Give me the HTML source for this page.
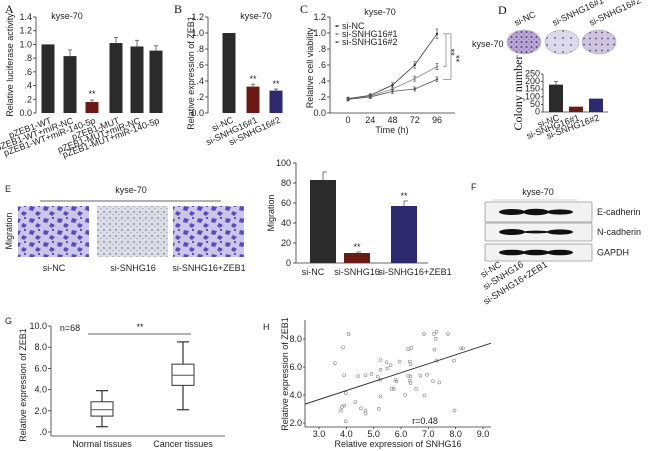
<!DOCTYPE html>
<html><head><meta charset="utf-8"><style>
html,body{margin:0;padding:0;background:#fff}
svg{display:block;font-family:"Liberation Sans",sans-serif}
.t{font-size:9px;fill:#222}
.L{font-family:"Liberation Serif",serif;font-size:12px;fill:#111}
</style></head><body>
<svg id="fig" width="650" height="451" viewBox="0 0 650 451" xmlns="http://www.w3.org/2000/svg">
<defs>
<pattern id="heavy" width="14" height="12" patternUnits="userSpaceOnUse">
<rect width="14" height="12" fill="#c9c6ea"/>
<path d="M2 2l5 1-2 4-4-1z M9 7l4 2-3 3-3-2z" fill="#5a4bb8"/><circle cx="11" cy="2" r="1" fill="#3a2d8a"/>
</pattern>
<pattern id="light" width="6" height="6" patternUnits="userSpaceOnUse">
<rect width="6" height="6" fill="#dcdbe8"/><circle cx="2" cy="2" r="0.7" fill="#555"/><circle cx="5" cy="4.5" r="0.5" fill="#777"/>
</pattern>
<pattern id="dish" width="5" height="5" patternUnits="userSpaceOnUse">
<rect width="5" height="5" fill="#b9a9d2"/><circle cx="1.5" cy="2" r="1" fill="#5b3f93"/><circle cx="4" cy="4.2" r="0.6" fill="#7c5fb0"/>
</pattern>
<pattern id="dish2" width="8" height="7" patternUnits="userSpaceOnUse">
<rect width="8" height="7" fill="#dcdaea"/><circle cx="3" cy="3" r="0.9" fill="#5b3f93"/>
</pattern>
<pattern id="dish3" width="6" height="6" patternUnits="userSpaceOnUse">
<rect width="6" height="6" fill="#cfc5de"/><circle cx="2" cy="2.5" r="0.9" fill="#5b3f93"/>
</pattern>
</defs>
<g id="root"></g>
</svg>
<script>
// ---------- data ----------
const aCats=["pZEB1-WT","pZEB1-WT+miR-NC","pZEB1-WT+miR-140-5p","pZEB1-MUT","pZEB1-MUT+miR-NC","pZEB1-MUT+miR-140-5p"];
const aVals=[1.0,0.83,0.16,1.02,0.97,0.91];
const aErr=[0,0.09,0.03,0.08,0.09,0.07];
const aTicks=["0.0",".2",".4",".6",".8","1.0","1.2","1.4"];
const bCats=["si-NC","si-SNHG16#1","si-SNHG16#2"];
const bVals=[1.0,0.33,0.28];
const bErr=[0,0.03,0.02];
const bTicks=["0.0",".2",".4",".6",".8","1.0","1.2"];
const cTimes=[0,24,48,72,96];
const cNC=[0.18,0.22,0.35,0.60,0.99];
const cS1=[0.17,0.21,0.30,0.43,0.58];
const cS2=[0.17,0.20,0.27,0.30,0.42];
const dCats=["si-NC","si-SNHG16#1","si-SNHG16#2"];
const dVals=[180,35,88];
const dTicks=[0,50,100,150,200,250];
const eCats=["si-NC","si-SNHG16","si-SNHG16+ZEB1"];
const eVals=[83,10,57];
const eErr=[8,1,5];
const eTicks=[0,20,40,60,80,100];
const gTicks=[".0","2.0","4.0","6.0","8.0","10.0"];
const gNormal=[0.5,1.5,2.1,2.85,3.9];
const gCancer=[2.1,4.4,5.35,6.4,8.5];
const hX=[3.58,3.88,3.92,3.84,3.8,3.92,3.98,3.98,4.08,4.33,4.43,4.53,4.7,4.7,4.71,4.92,5.15,5.19,5.24,5.25,5.25,5.25,5.47,5.5,5.62,5.67,5.74,5.8,5.84,5.95,6.15,6.26,6.38,6.32,6.35,6.27,6.32,6.35,6.35,6.55,6.71,6.84,6.86,6.95,7.17,7.21,7.22,7.27,7.3,7.3,7.4,7.72,7.94,7.96,8.2,8.27];
const hY=[6.27,7.41,5.42,3.14,2.88,3.24,4.14,2.12,8.36,3.5,5.35,3.05,5.42,2.9,2.67,5.51,5.32,3.02,5.09,6.5,5.8,3.9,6.34,5.9,6.13,4.44,4.44,5.09,4.97,6.39,4.0,7.27,7.36,6.39,6.2,5.37,5.02,5.32,4.85,4.44,5.39,8.36,3.97,5.44,4.99,8.36,7.24,8.02,8.52,6.46,4.9,8.36,6.46,2.9,7.34,7.34];
const hFit=[3.35,7.7];
const hXTicks=["3.0","4.0","5.0","6.0","7.0","8.0","9.0"];
const hYTicks=["2.0","4.0","6.0","8.0"];

const NS="http://www.w3.org/2000/svg";
const root=document.getElementById('root');
function mk(tag,attrs,parent,text){const e=document.createElementNS(NS,tag);for(const k in attrs)e.setAttribute(k,attrs[k]);if(text!==undefined)e.textContent=text;(parent||root).appendChild(e);return e;}
function grp(name){const g=mk('g',{});return g;}
function txt(g,x,y,s,opt){opt=opt||{};const t=mk('text',{x:x,y:y,class:opt.cls||'t','text-anchor':opt.a||'middle'},g,s);if(opt.rot!==undefined)t.setAttribute('transform',`rotate(${opt.rot} ${x} ${y})`);if(opt.size)t.setAttribute('font-size',opt.size);return t;}
function line(g,x1,y1,x2,y2,c,w){return mk('line',{x1,y1,x2,y2,stroke:c||'#333','stroke-width':w||0.8},g);}
const colDark='#2b2b2b',colRed='#6b1a14',colBlue='#2e2a6e';

// ---------- Panel A ----------
(function(){
const g=grp('panel-a');
txt(g,5,13,'A',{cls:'L',a:'start',name:'panel-letter-a'});
const x0=36,y0=113,ppu=96/1.4;
const ys=v=>y0-v*ppu;
line(g,x0,ys(1.4),x0,y0);
aTicks.forEach((s,i)=>{const y=ys(i*0.2);line(g,x0-3,y,x0,y);txt(g,x0-4,y+3,s,{a:'end',name:'y-tick-label'});});
const centers=[48,70,92,116,137,156];
aVals.forEach((v,i)=>{const c=centers[i];const r=mk('rect',{x:c-6.5,y:ys(v),width:13,height:y0-ys(v),fill:i===2?colRed:colDark},g);

if(aErr[i]){line(g,c,ys(v),c,ys(v+aErr[i]),'#555');line(g,c-2,ys(v+aErr[i]),c+2,ys(v+aErr[i]),'#555');}
txt(g,c+4,y0+10,aCats[i],{a:'end',rot:-20,size:9.5,name:'x-tick-label'});});
txt(g,92,ys(0.16+0.03)-3,'**',{size:7,name:'significance'});
txt(g,67,19,'kyse-70',{size:9.5,name:'title'});
txt(g,13,65,'Relative luciferase activity',{rot:-90,size:9.5,name:'y-axis-title'});
})();

// ---------- Panel B ----------
(function(){
const g=grp('panel-b');
txt(g,174,13,'B',{cls:'L',a:'start',name:'panel-letter-b'});
const x0=208,y0=113,ppu=96/1.2;const ys=v=>y0-v*ppu;
line(g,x0,ys(1.2),x0,y0);
bTicks.forEach((s,i)=>{const y=ys(i*0.2);line(g,x0-3,y,x0,y);txt(g,x0-4,y+3,s,{a:'end',name:'y-tick-label'});});
const centers=[229,253,276],cols=[colDark,colRed,colBlue];
bVals.forEach((v,i)=>{const c=centers[i];const r=mk('rect',{x:c-6.5,y:ys(v),width:13,height:y0-ys(v),fill:cols[i]},g);

if(bErr[i]){line(g,c,ys(v),c,ys(v+bErr[i]),'#555');line(g,c-2,ys(v+bErr[i]),c+2,ys(v+bErr[i]),'#555');txt(g,c,ys(v+bErr[i])-2,'**',{size:6,name:'significance'});}
txt(g,c+5,y0+9,bCats[i],{a:'end',rot:-25,size:9.5,name:'x-tick-label'});});
txt(g,256,19,'kyse-70',{size:9.5,name:'title'});
txt(g,194,73,'Relative expression of ZEB1',{rot:-90,size:9.5,name:'y-axis-title'});
})();

// ---------- Panel C ----------
(function(){
const g=grp('panel-c');
txt(g,300,13,'C',{cls:'L',a:'start',name:'panel-letter-c'});
const x0=330,y0=113,ppu=96/1.2;const ys=v=>y0-v*ppu;
const xs=t=>348+t*(437-348)/96;
line(g,x0,ys(1.2),x0,y0);line(g,x0,y0,455,y0);
bTicks.forEach((s,i)=>{const y=ys(i*0.2);line(g,x0-3,y,x0,y);txt(g,x0-4,y+3,s,{a:'end',name:'y-tick-label'});});
cTimes.forEach(t=>{txt(g,xs(t),123,String(t),{size:7.5,name:'x-tick-label'});});
txt(g,392,133,'Time (h)',{size:9.5,name:'x-axis-title'});
txt(g,313,68,'Relative cell viability',{rot:-90,size:9.5,name:'y-axis-title'});
txt(g,380,15,'kyse-70',{size:9.5,name:'title'});
const series=[[cNC,'#333','si-NC'],[cS1,'#888','si-SNHG16#1'],[cS2,'#555','si-SNHG16#2']];
series.forEach((s,k)=>{const pts=s[0].map((v,i)=>xs(cTimes[i])+','+ys(v)).join(' ');
const p=mk('polyline',{points:pts,fill:'none',stroke:s[1],'stroke-width':0.8},g);
s[0].forEach((v,i)=>{const x=xs(cTimes[i]),y=ys(v),e=0.01+v*0.05;line(g,x,ys(v-e),x,ys(v+e),'#444',0.6);line(g,x-1.5,ys(v+e),x+1.5,ys(v+e),'#444',0.6);line(g,x-1.5,ys(v-e),x+1.5,ys(v-e),'#444',0.6);mk('circle',{cx:x,cy:y,r:1.2,fill:s[1]},g);});
const ly=26+k*8;line(g,335,ly,339,ly,s[1],0.8);mk('circle',{cx:337,cy:ly,r:1,fill:s[1]},g);
txt(g,342,ly+3,s[2],{a:'start',size:9.5,name:'legend-entry'});});
const xb=xs(96);
line(g,xb+6,ys(cNC[4]),xb+9,ys(cNC[4]),'#666',0.6);line(g,xb+9,ys(cNC[4]),xb+9,ys(cS1[4]),'#666',0.6);line(g,xb+6,ys(cS1[4]),xb+9,ys(cS1[4]),'#666',0.6);
line(g,xb+9,ys(cNC[4]),xb+14,ys(cNC[4]),'#666',0.6);line(g,xb+14,ys(cNC[4]),xb+14,ys(cS2[4]),'#666',0.6);line(g,xb+6,ys(cS2[4]),xb+14,ys(cS2[4]),'#666',0.6);
txt(g,xb+11,ys((cNC[4]+cS1[4])/2)+2,'**',{size:5,rot:90,name:'significance'});
txt(g,xb+16,ys((cNC[4]+cS2[4])/2)+2,'**',{size:5,rot:90,name:'significance'});
})();

// ---------- Panel D ----------
(function(){
const g=grp('panel-d');
txt(g,498,14,'D',{cls:'L',a:'start',name:'panel-letter-d'});
txt(g,472,47,'kyse-70',{a:'start',size:9.5,name:'row-label'});
const cx=[524,562,599],fills=['url(#dish)','url(#dish2)','url(#dish3)'];
cx.forEach((x,i)=>{const e=mk('ellipse',{cx:x,cy:42,rx:17,ry:12,fill:fills[i],stroke:'#bbb','stroke-width':0.8},g);
txt(g,x-8,26,dCats[i],{a:'start',rot:-25,size:9.5,name:'plate-label'});});
const x0=543,y0=112,ppu=38/250;const ys=v=>y0-v*ppu;
line(g,x0,ys(250),x0,y0);line(g,x0,y0,608,y0);
dTicks.forEach(v=>{line(g,x0-2,ys(v),x0,ys(v));txt(g,x0-3,ys(v)+2.5,String(v),{a:'end',size:7.5,name:'y-tick-label'});});
const centers=[556,576,596],cols=[colDark,colRed,colBlue];
dVals.forEach((v,i)=>{const c=centers[i];const r=mk('rect',{x:c-7,y:ys(v),width:14,height:y0-ys(v),fill:cols[i]},g);
txt(g,c+4,y0+8,dCats[i],{a:'end',rot:-20,size:9.5,name:'x-tick-label'});});
line(g,556,ys(180),556,ys(200),'#555');line(g,554,ys(200),558,ys(200),'#555');
txt(g,522,93,'Colony number',{rot:-90,cls:'L',size:10.5,name:'y-axis-title'});
})();

// ---------- Panel E ----------
(function(){
const g=grp('panel-e');
txt(g,5,192,'E',{a:'start',size:11,name:'panel-letter-e'});
txt(g,131,193,'kyse-70',{size:8.5,name:'title'});line(g,40,201,221,201,'#333',0.8);
txt(g,12,231,'Migration',{rot:-90,size:8.5,name:'row-label'});
const xs=[18,97,173],fills=['url(#heavy)','url(#light)','url(#heavy)'];
xs.forEach((x,i)=>{const r=mk('rect',{x:x,y:206,width:71,height:51,fill:fills[i]},g);
txt(g,x+36,271,eCats[i],{size:8.5,name:'image-label'});});
const x0=296,y0=263,ppu=1;const ys=v=>y0-v*ppu;
line(g,x0,163,x0,y0);line(g,x0,y0,428,y0);
eTicks.forEach(v=>{line(g,x0-3,ys(v),x0,ys(v));txt(g,x0-5,ys(v)+3,String(v),{a:'end',size:8.5,name:'y-tick-label'});});
const centers=[323,357,404],cols=[colDark,colRed,colBlue];
eVals.forEach((v,i)=>{const c=centers[i];const r=mk('rect',{x:c-13,y:ys(v),width:26,height:y0-ys(v),fill:cols[i]},g);
const t=ys(v+eErr[i]);line(g,c,ys(v),c,t,'#555');line(g,c,t,c+4,t,'#555');
if(i>0)txt(g,c,t-2,'**',{size:8,name:'significance'});});
[[313,'si-NC'],[357,'si-SNHG16'],[415,'si-SNHG16+ZEB1']].forEach(p=>txt(g,p[0],275,p[1],{size:8.5,name:'x-tick-label'}));
txt(g,274,213,'Migration',{rot:-90,size:9.5,name:'y-axis-title'});
})();

// ---------- Panel F ----------
(function(){
const g=grp('panel-f');
txt(g,471,190,'F',{a:'start',size:11,name:'panel-letter-f'});
txt(g,538,195,'kyse-70',{size:8.5,name:'title'});line(g,492,200,577,200,'#999',0.6);
const rows=[[202,20,'E-cadherin',[3,3.2,2.6]],[223,18,'N-cadherin',[3,1.4,2.6]],[244,17,'GAPDH',[2.8,2.8,2.8]]];
rows.forEach(r=>{const b=mk('rect',{x:485,y:r[0],width:107,height:r[1],fill:'#f2f2f2',stroke:'#999','stroke-width':0.8,rx:1},g);
[512,536,560].forEach((x,i)=>mk('ellipse',{cx:x,cy:r[0]+r[1]/2,rx:13,ry:r[3][i],fill:'#111'},g));
txt(g,597,r[0]+r[1]/2+3,r[2],{a:'start',size:8.5,name:'blot-label'});});
[[502,'si-NC'],[524,'si-SNHG16'],[548,'si-SNHG16+ZEB1']].forEach(p=>txt(g,p[0],266,p[1],{a:'end',rot:-32,size:8.5,name:'lane-label'}));
})();

// ---------- Panel G ----------
(function(){
const g=grp('panel-g');
txt(g,5,324,'G',{a:'start',size:11,name:'panel-letter-g'});
const x0=51,y0=432,ppu=10.6;const ys=v=>y0-v*ppu;
line(g,x0,ys(10),x0,436);line(g,x0,436,225,436);
gTicks.forEach((s,i)=>{const y=ys(i*2);line(g,x0-3,y,x0,y);txt(g,x0-4,y+3,s,{a:'end',size:8.5,name:'y-tick-label'});});
txt(g,70,331,'n=68',{size:8.5,name:'annotation'});
line(g,88,334,191,334,'#333',0.8);txt(g,140,330,'**',{size:8,name:'significance'});
[[102,gNormal,'normal'],[183,gCancer,'cancer']].forEach(b=>{const c=b[0],q=b[1];const bg=mk('g',{},g);
line(bg,c,ys(q[0]),c,ys(q[1]),'#333',1.2);line(bg,c,ys(q[3]),c,ys(q[4]),'#333',1.2);
line(bg,c-6,ys(q[0]),c+6,ys(q[0]),'#333',1.2);line(bg,c-6,ys(q[4]),c+6,ys(q[4]),'#333',1.2);
mk('rect',{x:c-11,y:ys(q[3]),width:22,height:ys(q[1])-ys(q[3]),fill:'#fff',stroke:'#333','stroke-width':1},bg);
line(bg,c-11,ys(q[2]),c+11,ys(q[2]),'#555',1);});
txt(g,102,447,'Normal tissues',{size:9.5,name:'x-tick-label'});txt(g,183,447,'Cancer tissues',{size:9.5,name:'x-tick-label'});
txt(g,26,385,'Relative expression of ZEB1',{a:'middle',rot:-90,size:9.5,name:'y-axis-title'});
})();

// ---------- Panel H ----------
(function(){
const g=grp('panel-h');
txt(g,263,330,'H',{a:'start',size:11,name:'panel-letter-h'});
const x0=305,y0=427;
const xs=v=>319+(v-3)*27.33, ys=v=>423-(v-2)*14;
line(g,x0,320,x0,y0);line(g,x0,y0,491,y0);
hXTicks.forEach(s=>{const x=xs(parseFloat(s));line(g,x,y0,x,y0+2);txt(g,x,437,s,{size:8.5,name:'x-tick-label'});});
hYTicks.forEach(s=>{const y=ys(parseFloat(s));line(g,x0-2,y,x0,y);txt(g,x0-3,y+3,s,{a:'end',size:8.5,name:'y-tick-label'});});
hX.forEach((v,i)=>{const c=mk('circle',{cx:xs(v),cy:ys(hY[i]),r:1.5,fill:'none',stroke:'#888','stroke-width':0.6},g);});
const fl=line(g,x0,ys(hFit[0]),491,ys(hFit[1]),'#333',1);
txt(g,425,424,'r=0.48',{size:9.5,name:'annotation'});
txt(g,398,447,'Relative expression of SNHG16',{size:9.5,name:'x-axis-title'});
txt(g,288,374,'Relative expression of ZEB1',{rot:-90,size:9.5,name:'y-axis-title'});
})();
</script>
</body></html>
